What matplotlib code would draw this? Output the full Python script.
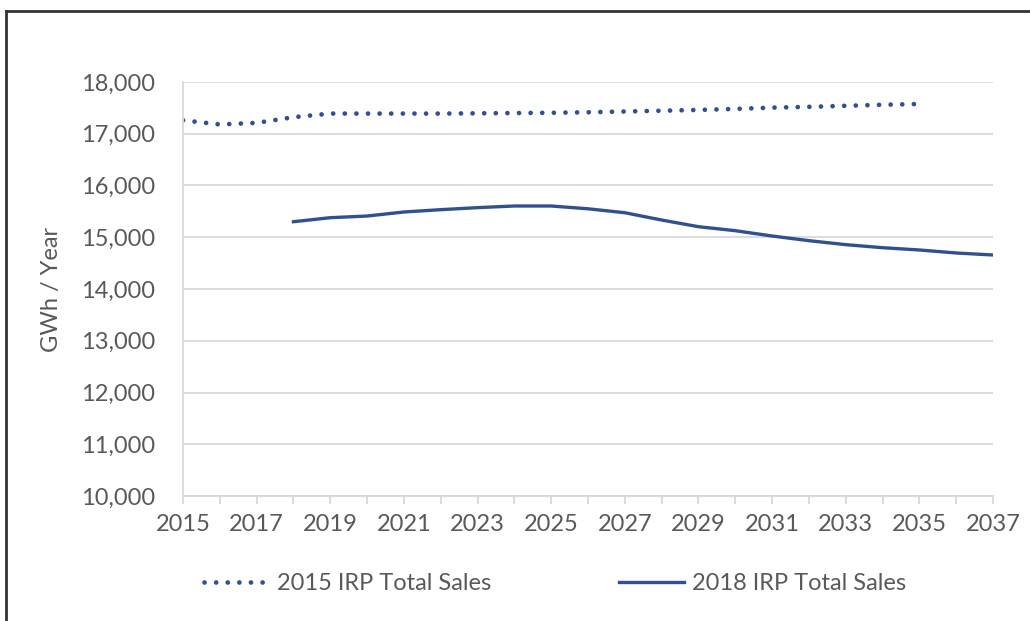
import matplotlib
matplotlib.use("Agg")
import matplotlib.pyplot as plt
from matplotlib.lines import Line2D

# Data
years_2015 = list(range(2015, 2036))
sales_2015 = [17260, 17180, 17210, 17320, 17390, 17390, 17390, 17390, 17395, 17400,
              17405, 17415, 17430, 17445, 17460, 17480, 17505, 17520, 17540, 17560, 17575]

years_2018 = list(range(2018, 2038))
sales_2018 = [15300, 15378, 15410, 15488, 15533, 15572, 15604, 15604, 15550, 15474,
              15333, 15204, 15127, 15024, 14934, 14857, 14798, 14754, 14696, 14657]

blue = '#2F5190'
grey_text = '#595959'
grid_col = '#D9D9D9'
fs = 17

plt.rcParams['font.family'] = ['Lato', 'DejaVu Sans']

fig = plt.figure(figsize=(10.30, 6.21), dpi=100)
ax = fig.add_axes([183 / 1030, 1 - 496 / 621, 810 / 1030, 414 / 621])

ax.plot(years_2015, sales_2015, color=blue, linewidth=3.4,
        linestyle=(0, (0.01, 2.45)), dash_capstyle='round',
        label='2015 IRP Total Sales')
ax.plot(years_2018, sales_2018, color=blue, linewidth=2.4,
        label='2018 IRP Total Sales')

ax.set_xlim(2015, 2037)
ax.set_ylim(10000, 18000)
ax.set_yticks(range(10000, 18001, 1000))
ax.set_yticklabels(['{:,}'.format(v) for v in range(10000, 18001, 1000)])
ax.set_xticks(range(2015, 2038))
ax.set_xticklabels([str(y) if (y - 2015) % 2 == 0 else '' for y in range(2015, 2038)])

ax.grid(axis='y', color=grid_col, linewidth=1.3)
ax.set_axisbelow(True)
for s in ['top', 'right']:
    ax.spines[s].set_visible(False)
ax.spines['left'].set_color(grid_col)
ax.spines['bottom'].set_color(grid_col)
ax.spines['left'].set_linewidth(1.3)
ax.spines['bottom'].set_linewidth(1.3)

ax.tick_params(axis='y', length=0, pad=20, labelsize=fs, labelcolor=grey_text)
ax.tick_params(axis='x', length=6, width=1.3, color=grid_col, direction='out',
               pad=7, labelsize=fs, labelcolor=grey_text)

ax.set_ylabel('GWh / Year', fontsize=fs, color=grey_text)
ax.yaxis.set_label_coords((62 - 183) / 810, 0.5)

fig.legend(loc='center', bbox_to_anchor=(555 / 1030, 1 - 584 / 621), ncol=2,
           frameon=False, fontsize=fs, handlelength=2.75, columnspacing=5.4,
           labelcolor=grey_text, handletextpad=0.35)

# outer frame (top and left edges visible)
fig.add_artist(Line2D([6 / 1030, 1.0], [1 - 11 / 621, 1 - 11 / 621],
                      transform=fig.transFigure, color='#333333', linewidth=2))
fig.add_artist(Line2D([6 / 1030, 6 / 1030], [0.0, 1 - 11 / 621],
                      transform=fig.transFigure, color='#333333', linewidth=2))

fig.savefig('out.png', dpi=100)
